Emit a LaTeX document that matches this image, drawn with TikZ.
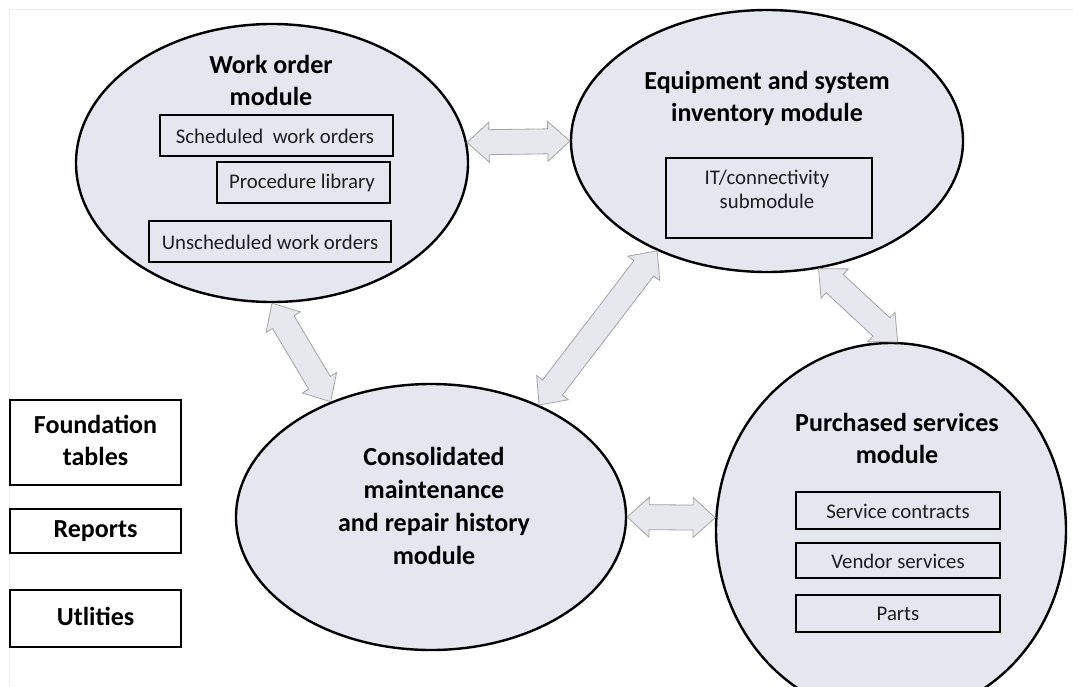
\documentclass[tikz,border=0pt]{standalone}
\usepackage{fontspec}
\setmainfont{Carlito}
\usetikzlibrary{calc,shapes.geometric}
\definecolor{modfill}{HTML}{E4E7F0}
\definecolor{arrfill}{HTML}{E6E8EE}
\definecolor{arrline}{HTML}{A4A4A4}
\definecolor{framegray}{HTML}{EDEDED}
\definecolor{textgray}{HTML}{1E1E1E}
\newcommand{\blockarrow}[2]{%
  \path[blockarr] (#1)
    -- ($(#1)!22pt!(#2)!20pt!90:(#2)$)
    -- ($(#1)!22pt!(#2)!12.5pt!90:(#2)$)
    -- ($(#2)!22pt!(#1)!12.5pt!-90:(#1)$)
    -- ($(#2)!22pt!(#1)!20pt!-90:(#1)$)
    -- (#2)
    -- ($(#2)!22pt!(#1)!20pt!90:(#1)$)
    -- ($(#2)!22pt!(#1)!12.5pt!90:(#1)$)
    -- ($(#1)!22pt!(#2)!12.5pt!-90:(#2)$)
    -- ($(#1)!22pt!(#2)!20pt!-90:(#2)$)
    -- cycle;}
\begin{document}
\begin{tikzpicture}[x=1pt,y=-1pt,
  modell/.style={ellipse, draw=black, line width=2.4pt, fill=modfill, inner sep=0pt, outer sep=1.2pt},
  title/.style={font=\bfseries\fontsize{26}{32}\selectfont, align=center, inner sep=0pt, text=black},
  subbox/.style={draw=black, line width=2.2pt, inner sep=0pt},
  subtext/.style={font=\fontsize{20.8}{24}\selectfont, align=center, inner sep=0pt, text=textgray},
  sidebox/.style={draw=black, line width=2.4pt, fill=white, inner sep=0pt, minimum width=171pt},
  blockarr/.style={fill=arrfill, draw=arrline, line width=0.8pt, line join=miter}]
\useasboundingbox (0,0) rectangle (1073,686);
\fill[white] (0,0) rectangle (1073,686);
\draw[framegray, line width=1pt] (9,686) -- (9,9) -- (1073,9);

% modules
\node[modell, minimum width=392pt, minimum height=278pt] (wo) at (272,163) {};
\node[modell, minimum width=392pt, minimum height=262pt] (eq) at (767,141) {};
\node[modell, minimum width=390pt, minimum height=266pt] (cm) at (431,517) {};
\node[modell, minimum width=350pt, minimum height=374pt] (ps) at (891,530) {};

% work order module
\node[title] (wot) at (271,80) {Work order\\module};
\node[subbox, minimum width=233pt, minimum height=41pt] (swo) at (276.5,135.5) {};
\node[subtext] (swot) at (275,136) {Scheduled\ \ work orders};
\node[subbox, minimum width=173pt, minimum height=41pt] (pl) at (303.5,182.5) {};
\node[subtext] (plt) at (302,183) {Procedure library};
\node[subbox, minimum width=242pt, minimum height=41pt] (uwo) at (270,241.5) {};
\node[subtext] (uwot) at (270,242) {Unscheduled work orders};

% equipment module
\node[title] (eqt) at (767,98) {Equipment and system\\inventory module};
\node[subbox, minimum width=206pt, minimum height=80pt] (it) at (769,198) {};
\node[subtext] (itt) at (767,189) {IT/connectivity\\submodule};

% consolidated module
\node[title, font=\bfseries\fontsize{26}{32.7}\selectfont] (cmt) at (434,506) {Consolidated\\maintenance\\and repair history\\module};

% purchased services module
\node[title] (pst) at (897,438) {Purchased services\\module};
\node[subbox, minimum width=204pt, minimum height=37pt] (sc) at (898,510.5) {};
\node[subtext] (sct) at (898,511) {Service contracts};
\node[subbox, minimum width=204pt, minimum height=35pt] (vs) at (898,560.5) {};
\node[subtext] (vst) at (898,561) {Vendor services};
\node[subbox, minimum width=204pt, minimum height=37pt] (pa) at (898,613.5) {};
\node[subtext] (pat) at (898,614) {Parts};

% side boxes
\node[sidebox, minimum height=85pt] (ft) at (95.5,442.5) {};
\node[title] (ftt) at (95.5,440) {Foundation\\tables};
\node[sidebox, minimum height=44pt] (rp) at (95.5,531) {};
\node[title] (rpt) at (95.5,531) {Reports};
\node[sidebox, minimum height=57pt] (ut) at (95.5,618.5) {};
\node[title] (utt) at (95.5,616) {Utlities};

% connectors
\blockarrow{wo.6}{eq.180}
\blockarrow{wo.270}{cm.131}
\blockarrow{eq.225}{cm.46}
\blockarrow{eq.292}{ps.88}
\blockarrow{cm.0}{ps.176}
\end{tikzpicture}
\end{document}
